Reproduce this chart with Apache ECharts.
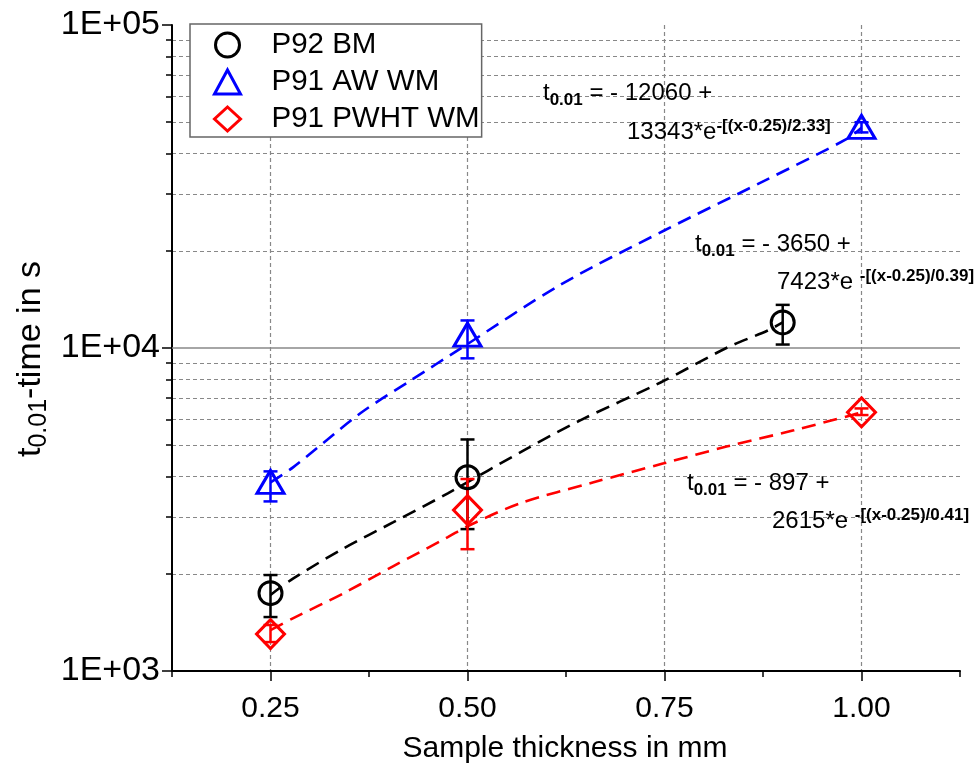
<!DOCTYPE html>
<html>
<head>
<meta charset="utf-8">
<script src="https://cdn.jsdelivr.net/npm/echarts@6/dist/echarts.min.js"></script>
<style>html,body{margin:0;padding:0;background:#fff}#main{width:974px;height:764px}</style>
</head>
<body>
<div id="main"></div>
<script>
// ---- data ----
const seriesNames = ['P92 BM', 'P91 AW WM', 'P91 PWHT WM'];

const bmX = [0.25, 0.5, 0.9];
const bmY = [1742, 3981, 12000];
const bmLow = [1469, 2750, 10250];
const bmHigh = [1982, 5210, 13600];

const awX = [0.25, 0.5, 1.0];
const awY = [3850, 11000, 48400];
const awLow = [3350, 9290, 46500];
const awHigh = [4150, 12170, 50000];

const pwX = [0.25, 0.5, 1.0];
const pwY = [1301, 3150, 6320];
const pwLow = [1229, 2383, 6200];
const pwHigh = [1388, 3930, 6500];

// fitted curves
const bmFitX = [0.25, 0.279, 0.343, 0.406, 0.475, 0.576, 0.643, 0.745, 0.830, 0.881, 0.9];
const bmFitY = [1720, 1936, 2398, 2889, 3550, 4890, 5970, 7820, 10040, 11330, 12000];
const awFitX = [0.25, 0.279, 0.364, 0.428, 0.491, 0.618, 0.749, 0.872, 0.982, 1.0];
const awFitY = [3837, 4277, 6277, 7935, 9955, 15700, 23070, 32500, 44470, 48100];
const pwFitX = [0.25, 0.279, 0.343, 0.406, 0.475, 0.5, 0.567, 0.660, 0.749, 0.830, 0.914, 0.986, 1.0];
const pwFitY = [1339, 1458, 1742, 2112, 2596, 2807, 3306, 3839, 4395, 4961, 5560, 6184, 6318];

// tick values
const xMajorTicks = [0.25, 0.5, 0.75, 1.0];
const xMinorTicks = [0.125, 0.375, 0.625, 0.875, 1.125];
const yMajorTicks = [1000, 10000, 100000];
const yMinorTicks = [2000, 3000, 4000, 5000, 6000, 7000, 8000, 9000,
                     20000, 30000, 40000, 50000, 60000, 70000, 80000, 90000];

// annotation texts
const fitTexts = [
  { l1: ' = - 12060 +', coef: '13343*e', exp: '-[(x-0.25)/2.33]' },
  { l1: ' = - 3650 +', coef: '7423*e ', exp: '-[(x-0.25)/0.39]' },
  { l1: ' = - 897 +', coef: '2615*e ', exp: '-[(x-0.25)/0.41]' }
];

const FONT = 'Liberation Sans, Arial, sans-serif';
const colors = ['#000000', '#0000ff', '#ff0000'];

function pairs(xs, ys) { return xs.map((x, i) => [x, ys[i]]); }

function errorSeries(xs, lo, hi, color) {
  return {
    type: 'custom',
    xAxisIndex: 0, yAxisIndex: 0,
    data: xs.map((x, i) => [x, lo[i], hi[i]]),
    encode: { x: 0, y: [1, 2] },
    z: 4,
    silent: true,
    renderItem: function (params, api) {
      const x = api.value(0);
      const p1 = api.coord([x, api.value(1)]);
      const p2 = api.coord([x, api.value(2)]);
      const hw = 7;
      const st = { stroke: color, lineWidth: 2.5 };
      return {
        type: 'group',
        children: [
          { type: 'line', shape: { x1: p1[0], y1: p1[1], x2: p2[0], y2: p2[1] }, style: st },
          { type: 'line', shape: { x1: p1[0] - hw, y1: p1[1], x2: p1[0] + hw, y2: p1[1] }, style: st },
          { type: 'line', shape: { x1: p2[0] - hw, y1: p2[1], x2: p2[0] + hw, y2: p2[1] }, style: st }
        ]
      };
    }
  };
}

function fitSeries(xs, ys, color, extra) {
  return Object.assign({
    type: 'line',
    xAxisIndex: 0, yAxisIndex: 0,
    data: pairs(xs, ys),
    showSymbol: false,
    symbol: 'none',
    smooth: 0.3,
    silent: true,
    z: 3,
    lineStyle: { color: color, width: 2.6, type: [14, 8] }
  }, extra || {});
}

function scatterSeries(name, xs, ys, symbol, size, color) {
  return {
    name: name,
    type: 'scatter',
    xAxisIndex: 0, yAxisIndex: 0,
    data: pairs(xs, ys),
    symbol: symbol,
    symbolSize: size,
    z: 5,
    itemStyle: { color: 'rgba(255,255,255,0)', borderColor: color, borderWidth: 3, opacity: 1 }
  };
}

const richMain = { fontSize: 24, lineHeight: 28, fontFamily: FONT, color: '#000' };
const richSub = { fontSize: 17, fontWeight: 'bold', lineHeight: 20, padding: [14, 0, 0, 0], fontFamily: FONT, color: '#000' };
const richSup = { fontSize: 17, fontWeight: 'bold', lineHeight: 20, padding: [0, 0, 12, 0], fontFamily: FONT, color: '#000' };

function fitLabel(t, x1, y1, x2, y2) {
  return [
    { type: 'text', x: x1, y: y1, z: 100,
      style: { text: '{m|t}{s|0.01}{m|' + t.l1 + '}', verticalAlign: 'middle', align: 'left',
               rich: { m: richMain, s: richSub } } },
    { type: 'text', x: x2, y: y2, z: 100,
      style: { text: '{m|' + t.coef + '}{p|' + t.exp + '}', verticalAlign: 'middle', align: 'left',
               rich: { m: richMain, p: richSup } } }
  ];
}

const chart = echarts.init(document.getElementById('main'), null, { renderer: 'canvas' });

const option = {
  backgroundColor: '#ffffff',
  animation: false,
  grid: { left: 172, right: 14, top: 25, bottom: 93, containLabel: false },
  legend: {
    data: seriesNames,
    orient: 'vertical',
    left: 190, top: 24,
    padding: [6, 2, 3, 23],
    itemGap: 7,
    itemWidth: 26,
    itemHeight: 24,
    itemStyle: { borderWidth: 3 },
    backgroundColor: '#ffffff',
    borderColor: '#666666',
    borderWidth: 1.5,
    textStyle: { fontSize: 29.5, fontFamily: FONT, color: '#000', lineHeight: 30, padding: [0, 0, 0, 26] }
  },
  xAxis: [
    {
      type: 'value', min: 0.125, max: 1.125,
      axisLine: { show: true, onZero: false, lineStyle: { color: '#000', width: 2 } },
      axisTick: { show: true, customValues: xMajorTicks, length: 10, lineStyle: { color: '#000', width: 1.5 } },
      axisLabel: { show: true, customValues: xMajorTicks, formatter: v => v.toFixed(2),
                   fontSize: 30, fontFamily: FONT, color: '#000', margin: 23 },
      splitLine: { show: true, lineStyle: { color: '#888', width: 1.2, type: [4, 3] } }
    },
    {
      type: 'value', min: 0.125, max: 1.125, position: 'bottom',
      axisLine: { show: false },
      axisTick: { show: true, customValues: xMinorTicks, length: 6, lineStyle: { color: '#000', width: 1.5 } },
      axisLabel: { show: false },
      splitLine: { show: false }
    }
  ],
  yAxis: [
    {
      type: 'log', logBase: 10, min: 1000, max: 100000,
      axisLine: { show: true, onZero: false, lineStyle: { color: '#000', width: 2 } },
      axisTick: { show: true, customValues: yMajorTicks, length: 10, lineStyle: { color: '#000', width: 1.5 } },
      axisLabel: { show: true, customValues: yMajorTicks,
                   formatter: v => '1E+' + String(Math.round(Math.log10(v))).padStart(2, '0'),
                   fontSize: 34, fontFamily: FONT, color: '#000', margin: 12 },
      splitLine: { show: false },
      minorTick: { show: false }
    },
    {
      type: 'value', min: 3, max: 5, position: 'left',
      axisLine: { show: false },
      axisTick: { show: true, customValues: yMinorTicks.map(v => Math.log10(v)), length: 6,
                  lineStyle: { color: '#000', width: 1.5 } },
      axisLabel: { show: false },
      splitLine: { show: true, lineStyle: { color: '#888', width: 1.2, type: [4, 3] } }
    }
  ],
  graphic: [
    { type: 'text', x: 31, y: 359, rotation: Math.PI / 2, z: 100,
      style: { text: '{m|t}{s|0.01}{m|-time in s}', align: 'center', verticalAlign: 'middle',
               rich: { m: { fontSize: 34, lineHeight: 36, fontFamily: FONT, color: '#000' },
                       s: { fontSize: 25, lineHeight: 26, padding: [16, 0, 0, 0], fontFamily: FONT, color: '#000' } } } },
    { type: 'text', x: 565, y: 749, z: 100,
      style: { text: 'Sample thickness in mm', align: 'center', verticalAlign: 'middle',
               fontSize: 30, fontFamily: FONT, fill: '#000' } }
  ].concat(
    fitLabel(fitTexts[0], 543, 93, 627, 132),
    fitLabel(fitTexts[1], 695, 244, 777, 282),
    fitLabel(fitTexts[2], 687, 483, 772, 521)
  ),
  series: [
    fitSeries(awFitX, awFitY, colors[1], {
      markLine: { silent: true, symbol: ['none', 'none'], label: { show: false },
                  lineStyle: { color: '#888', width: 1.5, type: 'solid' },
                  data: [{ yAxis: 10000 }], z: 2 }
    }),
    fitSeries(bmFitX, bmFitY, colors[0]),
    fitSeries(pwFitX, pwFitY, colors[2]),
    errorSeries(bmX, bmLow, bmHigh, colors[0]),
    errorSeries(awX, awLow, awHigh, colors[1]),
    errorSeries(pwX, pwLow, pwHigh, colors[2]),
    scatterSeries(seriesNames[0], bmX, bmY, 'circle', 23, colors[0]),
    scatterSeries(seriesNames[1], awX, awY, 'triangle', [27, 23], colors[1]),
    scatterSeries(seriesNames[2], pwX, pwY, 'diamond', [28, 29], colors[2])
  ]
};
chart.setOption(option);
</script>
</body>
</html>
